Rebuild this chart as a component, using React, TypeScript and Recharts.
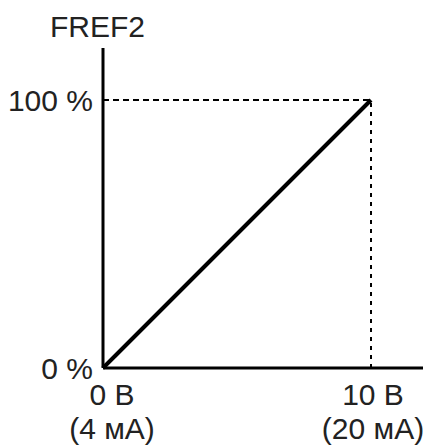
import { ComposedChart, Line, XAxis, YAxis, ReferenceLine } from "recharts";

// x: input signal (volts), y: FREF2 percentage
const inputVolts = [0, 10];
const fref2Percent = [0, 100];
const xTickLabels = ["0 В", "10 В"];
const xTickSubLabels = ["(4 мА)", "(20 мА)"];
const yTickLabels = ["0 %", "100 %"];

const data = inputVolts.map((v, i) => ({ x: v, y: fref2Percent[i] }));

const FONT = "'Liberation Sans', Arial, sans-serif";
const TEXT = "#222";

function XTick(props: any) {
  const { x, y, payload, index } = props;
  const shift = index === 0 ? 9 : 2;
  return (
    <g transform={`translate(${x + shift},${y})`}>
      <text textAnchor="middle" y={29} fontSize={30} fill={TEXT} fontFamily={FONT}>
        {xTickLabels[index] ?? payload.value}
      </text>
      <text textAnchor="middle" y={63} fontSize={30} fill={TEXT} fontFamily={FONT}>
        {xTickSubLabels[index]}
      </text>
    </g>
  );
}

function YTick(props: any) {
  const { y, index } = props;
  return (
    <text x={93} y={y + 11} textAnchor="end" fontSize={30} fill={TEXT} fontFamily={FONT}>
      {yTickLabels[index]}
    </text>
  );
}

export default function App() {
  return (
    <div style={{ position: "absolute", left: 0, top: 0, width: 426, height: 448, background: "#fff" }}>
      <div
        style={{
          position: "absolute",
          left: 50,
          top: 12,
          fontSize: 30,
          lineHeight: "30px",
          fontFamily: FONT,
          color: TEXT,
        }}
      >
        FREF2
      </div>
      <ComposedChart
        width={426}
        height={448}
        data={data}
        margin={{ top: 48, right: 3, left: 0, bottom: 0 }}
      >
        <XAxis
          dataKey="x"
          type="number"
          domain={[0, 11.94]}
          ticks={inputVolts}
          tick={<XTick />}
          tickLine={false}
          axisLine={{ stroke: "#000", strokeWidth: 3 }}
          height={80}
          interval={0}
        />
        <YAxis
          dataKey="y"
          type="number"
          domain={[0, 119.4]}
          ticks={fref2Percent}
          tick={<YTick />}
          tickLine={false}
          axisLine={{ stroke: "#000", strokeWidth: 3 }}
          width={103}
          interval={0}
        />
        <ReferenceLine
          segment={[
            { x: 0, y: 100 },
            { x: 10, y: 100 },
          ]}
          stroke="#000"
          strokeWidth={2}
          strokeDasharray="6 4"
        />
        <ReferenceLine
          segment={[
            { x: 10, y: 0 },
            { x: 10, y: 100 },
          ]}
          stroke="#000"
          strokeWidth={2}
          strokeDasharray="4 5"
        />
        <Line
          dataKey="y"
          stroke="#000"
          strokeWidth={4}
          dot={false}
          isAnimationActive={false}
        />
      </ComposedChart>
    </div>
  );
}
